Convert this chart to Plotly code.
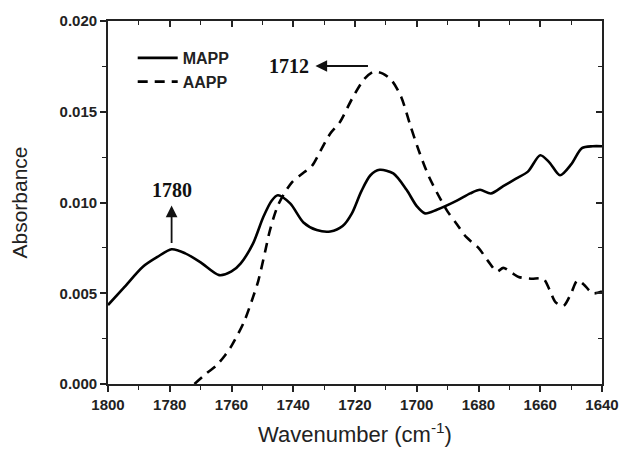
import plotly.graph_objects as go

# ---- data ----
mapp_x = [1800, 1795, 1788.7, 1784, 1779.4, 1775, 1770, 1764, 1760, 1757, 1753, 1749.7, 1747,
          1745, 1741, 1736.7, 1732.4, 1728, 1724, 1721, 1718, 1715, 1712, 1707.6, 1703.3, 1700,
          1697.3, 1693.5, 1687, 1682.7, 1679.5, 1676, 1672, 1668, 1664, 1660, 1657, 1653.6,
          1650, 1646.5, 1643, 1640]
mapp_y = [0.00435, 0.00528, 0.00646, 0.0070, 0.00742, 0.0072, 0.0067, 0.0060, 0.0062, 0.00665,
          0.00775, 0.0092, 0.0101, 0.0104, 0.00995, 0.0089, 0.00848, 0.0084, 0.0087, 0.0094,
          0.0106, 0.0115, 0.0118, 0.0116, 0.0107, 0.0098, 0.0094, 0.0096, 0.0101, 0.0105,
          0.0107, 0.0105, 0.0109, 0.0113, 0.0117, 0.0126, 0.0122, 0.0115, 0.0121, 0.0130,
          0.0131, 0.0131]

aapp_x = [1772, 1768, 1765, 1762, 1760, 1756, 1753, 1751.3, 1749.1, 1747.5, 1744.8, 1740.5,
          1737, 1734, 1731, 1728, 1725, 1721, 1717, 1714, 1711, 1708, 1705, 1702, 1699, 1696,
          1693, 1690, 1687, 1684, 1680, 1677, 1674, 1672, 1669, 1667, 1663, 1659, 1657, 1655,
          1652.5, 1650, 1648, 1646, 1643, 1640]
aapp_y = [0.0000, 0.0006, 0.0010, 0.0016, 0.0021, 0.0034, 0.0048, 0.0057, 0.0073, 0.0085,
          0.0099, 0.0111, 0.0116, 0.0120, 0.0129, 0.0138, 0.0144, 0.0157, 0.0168, 0.0172,
          0.0171, 0.0167, 0.0158, 0.0142, 0.0127, 0.0114, 0.0104, 0.0095, 0.0088, 0.0081,
          0.0075, 0.0068, 0.0062, 0.0064, 0.0061, 0.0059, 0.0058, 0.0058, 0.0052, 0.0045,
          0.0043, 0.0050, 0.0057, 0.0055, 0.0050, 0.0051]

x_range = [1800, 1640]
y_range = [0.0, 0.020]
x_ticks = [1800, 1780, 1760, 1740, 1720, 1700, 1680, 1660, 1640]
y_ticks = [0.000, 0.005, 0.010, 0.015, 0.020]
y_ticklabels = ["0.000", "0.005", "0.010", "0.015", "0.020"]

peak_labels = ["1780", "1712"]

fig = go.Figure()
fig.add_trace(go.Scatter(x=mapp_x, y=mapp_y, mode="lines", name="MAPP",
                         line=dict(color="black", width=2.6, shape="spline", smoothing=0.8)))
fig.add_trace(go.Scatter(x=aapp_x, y=aapp_y, mode="lines", name="AAPP",
                         line=dict(color="black", width=2.6, dash="10px,7px", shape="spline", smoothing=0.8)))
# invisible trace to carry the mirrored tick axes
fig.add_trace(go.Scatter(x=x_range, y=y_range, xaxis="x2", yaxis="y2", mode="lines",
                         line=dict(width=0), showlegend=False, hoverinfo="skip"))

tickfont = dict(family="Liberation Sans, Arial", size=15, color="#222", weight="bold")

fig.update_layout(
    width=620, height=450,
    margin=dict(l=108, r=18, t=21, b=66, autoexpand=False),
    plot_bgcolor="white", paper_bgcolor="white",
    showlegend=True,
    legend=dict(x=0.05, y=0.945, xanchor="left", yanchor="top",
                bgcolor="rgba(0,0,0,0)", font=dict(family="Liberation Sans, Arial", size=16,
                                                   color="#222", weight="bold"),
                tracegroupgap=0, itemwidth=40),
    xaxis=dict(range=x_range, tickmode="array", tickvals=x_ticks, automargin=False,
               ticks="outside", ticklen=6, tickwidth=1.5, tickcolor="#222",
               minor=dict(ticks="outside", dtick=10, ticklen=4, tickwidth=1.2, tickcolor="#222"),
               showline=True, linecolor="#222", linewidth=1.8, mirror=True,
               showgrid=False, zeroline=False, tickfont=tickfont,
               title=dict(text="Wavenumber (cm<sup>-1</sup>)", standoff=15,
                          font=dict(family="Liberation Sans, Arial", size=22, color="#222"))),
    yaxis=dict(range=y_range, tickmode="array", tickvals=y_ticks, ticktext=y_ticklabels,
               automargin=False,
               ticks="outside", ticklen=6, tickwidth=1.5, tickcolor="#222",
               minor=dict(ticks="outside", dtick=0.0025, ticklen=4, tickwidth=1.2, tickcolor="#222"),
               showline=True, linecolor="#222", linewidth=1.8, mirror=True,
               showgrid=False, zeroline=False, tickfont=tickfont,
               title=dict(text="Absorbance", standoff=26,
                          font=dict(family="Liberation Sans, Arial", size=21, color="#222"))),
    xaxis2=dict(overlaying="x", side="top", range=x_range, tickmode="array", tickvals=x_ticks,
                automargin=False,
                ticks="inside", ticklen=6, tickwidth=1.5, tickcolor="#222",
                minor=dict(ticks="inside", dtick=10, ticklen=4, tickwidth=1.2, tickcolor="#222"),
                showticklabels=False, showgrid=False, zeroline=False, showline=False),
    yaxis2=dict(overlaying="y", side="right", range=y_range, tickmode="array", tickvals=y_ticks,
                automargin=False,
                ticks="inside", ticklen=6, tickwidth=1.5, tickcolor="#222",
                minor=dict(ticks="inside", dtick=0.0025, ticklen=4, tickwidth=1.2, tickcolor="#222"),
                showticklabels=False, showgrid=False, zeroline=False, showline=False),
)

serif = dict(family="Liberation Serif, Times New Roman", size=20, color="#111", weight="bold")
# peak labels with arrows (arrowhead drawn at the text side)
fig.add_annotation(x=1779.4, y=0.00777, ax=1779.4, ay=0.01069, axref="x", ayref="y",
                   text=peak_labels[0], font=serif, showarrow=True, arrowside="start",
                   arrowhead=2, startarrowhead=2, startarrowsize=1.3, arrowwidth=1.8,
                   arrowcolor="#111", startstandoff=3)
fig.add_annotation(x=1715.8, y=0.01752, ax=1741.4, ay=0.01752, axref="x", ayref="y",
                   text=peak_labels[1], font=serif, showarrow=True, arrowside="start",
                   arrowhead=2, startarrowhead=2, startarrowsize=1.3, arrowwidth=1.8,
                   arrowcolor="#111", startstandoff=5)

fig.write_html("out.html")
